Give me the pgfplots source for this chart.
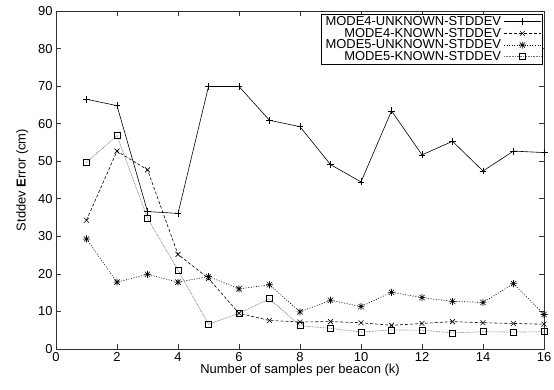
\documentclass[border=0pt]{standalone}
\usepackage{pgfplots}
\pgfplotsset{compat=1.18}
\usepackage{fontspec}
\setmainfont{Liberation Sans}

% eight-spoked star: a plus and a cross drawn together
\pgfdeclareplotmark{plusx}{%
  \pgfpathmoveto{\pgfqpoint{-\pgfplotmarksize}{0pt}}%
  \pgfpathlineto{\pgfqpoint{\pgfplotmarksize}{0pt}}%
  \pgfpathmoveto{\pgfqpoint{0pt}{-\pgfplotmarksize}}%
  \pgfpathlineto{\pgfqpoint{0pt}{\pgfplotmarksize}}%
  \pgfpathmoveto{\pgfqpoint{-0.75\pgfplotmarksize}{-0.75\pgfplotmarksize}}%
  \pgfpathlineto{\pgfqpoint{0.75\pgfplotmarksize}{0.75\pgfplotmarksize}}%
  \pgfpathmoveto{\pgfqpoint{-0.75\pgfplotmarksize}{0.75\pgfplotmarksize}}%
  \pgfpathlineto{\pgfqpoint{0.75\pgfplotmarksize}{-0.75\pgfplotmarksize}}%
  \pgfusepathqstroke}

\begin{document}
\begin{tikzpicture}[x=1bp,y=1bp]
\useasboundingbox (-56,-40) rectangle (498,349);
\begin{axis}[
  at={(0,0)}, anchor=south west,
  scale only axis, width=488bp, height=338bp,
  xmin=0, xmax=16, ymin=0, ymax=90,
  xtick={0,2,...,16}, ytick={0,10,...,90},
  tick align=inside, major tick length=5bp,
  axis line style={black!80, line width=0.7pt},
  every tick/.style={black!80, line width=0.6pt},
  font=\fontsize{13}{15}\selectfont,
  /pgf/number format/assume math mode=true,
  xlabel={Number of samples per beacon (k)},
  ylabel={Stddev \textbf{E}rror (cm)},
  xlabel style={yshift=4bp},
  ylabel style={yshift=3bp},
  legend plot pos=right,
  legend cell align=right,
  legend style={at={(1,1)}, anchor=north east, xshift=-1bp, yshift=-3bp,
    draw=black, line width=0.6pt, inner sep=1.5pt, row sep=0pt,
    font=\fontsize{13}{15}\selectfont,
    nodes={text height=9.3bp, text depth=1.6bp, inner ysep=0.4pt, inner xsep=2.5pt}},
  legend image code/.code={
    \draw[mark repeat=2,mark phase=2] plot coordinates {(0bp,0bp) (18.5bp,0bp) (37bp,0bp)};},
]
\addplot[black, line width=0.6pt, mark=+, mark size=3.5pt, mark options={solid}] coordinates {
(1,66.5) (2,64.8) (3,36.6) (4,36.1) (5,69.9) (6,69.9) (7,60.9) (8,59.2)
(9,49.1) (10,44.5) (11,63.4) (12,51.7) (13,55.3) (14,47.4) (15,52.7) (16,52.3)};
\addlegendentry{MODE4-UNKNOWN-STDDEV}
\addplot[black, line width=0.6pt, dash pattern=on 3pt off 2pt, mark=x, mark size=3.5pt, mark options={solid}] coordinates {
(1,34.3) (2,52.7) (3,47.7) (4,25.2) (5,18.8) (6,9.5) (7,7.6) (8,7.2)
(9,7.3) (10,7.0) (11,6.3) (12,6.8) (13,7.3) (14,7.0) (15,6.8) (16,6.6)};
\addlegendentry{MODE4-KNOWN-STDDEV}
\addplot[black, line width=0.6pt, dash pattern=on 1pt off 1.6pt, mark=plusx, mark size=3.5pt, mark options={solid}] coordinates {
(1,29.3) (2,17.8) (3,19.9) (4,17.8) (5,19.3) (6,16.0) (7,17.1) (8,9.9)
(9,13.0) (10,11.3) (11,15.1) (12,13.7) (13,12.7) (14,12.4) (15,17.4) (16,9.2)};
\addlegendentry{MODE5-UNKNOWN-STDDEV}
\addplot[black!55, line width=0.6pt, dash pattern=on 0.8pt off 0.8pt, mark=square, mark size=3pt, mark options={solid, black}] coordinates {
(1,49.7) (2,56.8) (3,34.8) (4,21.0) (5,6.6) (6,9.5) (7,13.4) (8,6.2)
(9,5.5) (10,4.5) (11,5.1) (12,5.0) (13,4.3) (14,4.6) (15,4.5) (16,4.6)};
\addlegendentry{MODE5-KNOWN-STDDEV}
\end{axis}
\end{tikzpicture}
\end{document}
